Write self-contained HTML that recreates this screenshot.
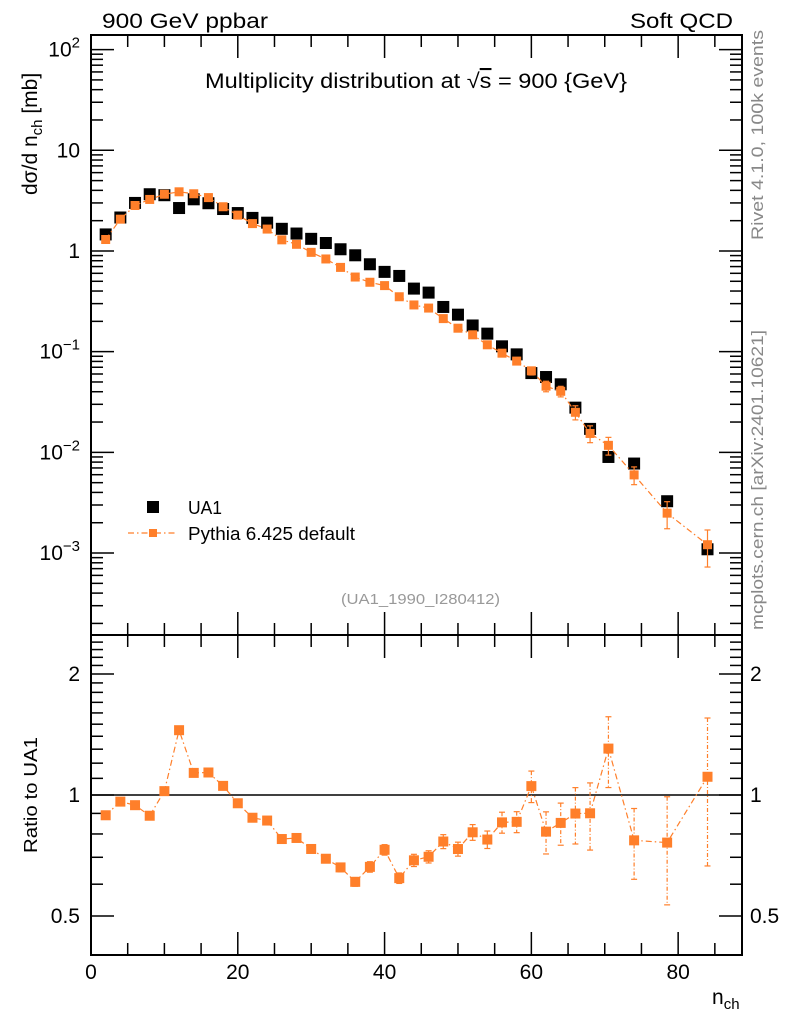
<!DOCTYPE html>
<html><head><meta charset="utf-8"><style>
html,body{margin:0;padding:0;background:#fff;}
svg{display:block;font-family:"Liberation Sans",sans-serif;}
</style></head><body>
<svg id="chart" width="786" height="1024" viewBox="0 0 786 1024" xmlns="http://www.w3.org/2000/svg">
<g id="axes"></g>
<g id="marks"></g>
<text x="102" y="28" font-size="21" textLength="166" lengthAdjust="spacingAndGlyphs">900 GeV ppbar</text>
<text x="733" y="28" font-size="21" text-anchor="end" textLength="103" lengthAdjust="spacingAndGlyphs">Soft QCD</text>
<text x="205" y="88" font-size="21" textLength="422" lengthAdjust="spacingAndGlyphs">Multiplicity distribution at √<tspan text-decoration="overline">s</tspan> = 900 {GeV}</text>
<text transform="translate(37,195) rotate(-90)" font-size="21">dσ/d n<tspan font-size="15" dy="5">ch</tspan><tspan dy="-5"> [mb]</tspan></text>
<text transform="translate(37,795) rotate(-90)" font-size="18" text-anchor="middle" textLength="116" lengthAdjust="spacingAndGlyphs">Ratio to UA1</text>
<text x="712" y="1004" font-size="21">n<tspan font-size="15" dy="5">ch</tspan></text>
<text transform="translate(763,240) rotate(-90)" font-size="17" fill="#888" textLength="210" lengthAdjust="spacingAndGlyphs">Rivet 4.1.0,  100k events</text>
<text transform="translate(763,630) rotate(-90)" font-size="17" fill="#888" textLength="300" lengthAdjust="spacingAndGlyphs">mcplots.cern.ch [arXiv:2401.10621]</text>
<text x="341" y="604" font-size="15" fill="#999" textLength="159" lengthAdjust="spacingAndGlyphs">(UA1_1990_I280412)</text>
<g>
<rect x="147" y="501" width="12" height="12" fill="#000"/>
<text x="188" y="514" font-size="18" textLength="34" lengthAdjust="spacingAndGlyphs">UA1</text>
<line x1="128" y1="533" x2="175" y2="533" stroke="#ff7f2a" stroke-width="1.2" stroke-dasharray="6,3,1.5,3"/>
<rect x="149" y="529" width="8" height="8" fill="#ff7f2a"/>
<text x="188" y="540" font-size="18" textLength="167" lengthAdjust="spacingAndGlyphs">Pythia 6.425 default</text>
</g>
</svg>
<script>
const nch = [2,4,6,8,10,12,14,16,18,20,22,24,26,28,30,32,34,36,38,40,42,44,46,48,50,52,54,56,58,60,62,64,66,68,70.5,74,78.5,84];
const ua1 = [1.46,2.15,3.0,3.66,3.58,2.67,3.26,2.98,2.61,2.38,2.13,1.91,1.66,1.49,1.32,1.20,1.04,0.906,0.738,0.62,0.565,0.423,0.386,0.278,0.233,0.182,0.151,0.113,0.094,0.0613,0.056,0.0474,0.0278,0.0171,0.0090,0.00774,0.00327,0.00109];
const pythia = [1.30,2.07,2.83,3.25,3.66,3.87,3.70,3.39,2.75,2.27,1.87,1.65,1.29,1.165,0.969,0.833,0.687,0.551,0.489,0.453,0.351,0.291,0.271,0.213,0.171,0.147,0.117,0.0966,0.0806,0.0645,0.0454,0.0404,0.0250,0.0154,0.01174,0.00597,0.00249,0.00121];
const pythiaRelErr = [0.015,0.015,0.015,0.015,0.015,0.015,0.015,0.015,0.015,0.015,0.015,0.015,0.02,0.02,0.02,0.02,0.025,0.025,0.03,0.03,0.03,0.035,0.035,0.04,0.04,0.045,0.05,0.06,0.06,0.09,0.12,0.12,0.16,0.19,0.2,0.2,0.3,0.4];
const xTicks = [0,20,40,60,80];
const yDecades = [-3,-2,-1,0,1,2];
const ratioTicks = [0.5,1,2];

const NS='http://www.w3.org/2000/svg';
const L=91, R=742, T=35, MB=635, RB=955;
const X0=0, X1=88.7;
const LY0=-3.814, LY1=2.145;
const RY0=Math.log2(0.4), RY1=Math.log2(2.5);
const sx=v=>L+(v-X0)/(X1-X0)*(R-L);
const sy=v=>MB-(Math.log10(v)-LY0)/(LY1-LY0)*(MB-T);
const sr=v=>RB-(Math.log2(v)-RY0)/(RY1-RY0)*(RB-MB);
const axes=document.getElementById('axes'), marks=document.getElementById('marks');
function mk(tag,attrs,parent){const e=document.createElementNS(NS,tag);for(const k in attrs)e.setAttribute(k,attrs[k]);parent.appendChild(e);return e;}
function ln(x1,y1,x2,y2,p,w,c,dash){const e=mk('line',{x1,y1,x2,y2,stroke:c||'#000','stroke-width':w||1.5},p);if(dash)e.setAttribute('stroke-dasharray',dash);return e;}

let f1=mk('rect',{x:L,y:T,width:R-L,height:MB-T,fill:'none',stroke:'#000','stroke-width':2},axes);


let f2=mk('rect',{x:L,y:MB,width:R-L,height:RB-MB,fill:'none',stroke:'#000','stroke-width':2},axes);



for(let v=0;v<=X1;v+=5){
  const x=sx(v), big=(v%20===0), len=big?23:12;
  ln(x,T,x,T+len,axes);ln(x,MB,x,MB-len,axes);ln(x,MB,x,MB+len,axes);ln(x,RB,x,RB-len,axes);
}
xTicks.forEach(v=>{const t=mk('text',{x:sx(v),y:979,'font-size':21,'text-anchor':'middle'},axes);t.textContent=v;

});

const sup={'-3':'−3','-2':'−2','-1':'−1','2':'2'};
yDecades.forEach(d=>{
  const y=sy(Math.pow(10,d));
  ln(L,y,L+23,y,axes);ln(R,y,R-23,y,axes);
  for(let m=2;m<=9;m++){const v=m*Math.pow(10,d);const yy=sy(v);if(yy>T&&yy<MB){ln(L,yy,L+12,yy,axes);ln(R,yy,R-12,yy,axes);}}
  const t=mk('text',{x:80,y:y+7,'font-size':21,'text-anchor':'end'},axes);
  
  
  if(d===0)t.textContent='1';else if(d===1)t.textContent='10';
  else{t.textContent='10';const s=mk('tspan',{'font-size':15,dy:-9},t);s.textContent=sup[d];}
});
for(let m=2;m<=9;m++){const yy=sy(m*1e-4);if(yy<MB){ln(L,yy,L+12,yy,axes);ln(R,yy,R-12,yy,axes);}}

const rMinor=[0.4,0.6,0.7,0.8,0.9,1.1,1.2,1.3,1.4,1.5,1.6,1.7,1.8,1.9,2.1,2.2,2.3,2.4];
rMinor.forEach(v=>{const y=sr(v);ln(L,y,L+12,y,axes);ln(R,y,R-12,y,axes);});
ratioTicks.forEach(v=>{const y=sr(v);ln(L,y,L+23,y,axes);ln(R,y,R-23,y,axes);
  const t=mk('text',{x:80,y:y+7,'font-size':21,'text-anchor':'end'},axes);t.textContent=v;
  
  
  const t2=mk('text',{x:750,y:y+7,'font-size':21},axes);t2.textContent=v;
  
  });
const ref=ln(L,sr(1),R,sr(1),axes,1.5);



const OR='#ff7f2a', DASH='6,3,1.5,3';
nch.forEach((n,i)=>{const r=mk('rect',{x:sx(n)-6,y:sy(ua1[i])-6,width:12,height:12,fill:'#000'},marks);

});
const pts=nch.map((n,i)=>sx(n)+','+sy(pythia[i])).join(' ');
const pl=mk('polyline',{points:pts,fill:'none',stroke:OR,'stroke-width':1.2,'stroke-dasharray':DASH},marks);


const ratio=pythia.map((p,i)=>p/ua1[i]);
const rpts=nch.map((n,i)=>sx(n)+','+sr(ratio[i])).join(' ');
const rl=mk('polyline',{points:rpts,fill:'none',stroke:OR,'stroke-width':1.2,'stroke-dasharray':DASH},marks);


nch.forEach((n,i)=>{
  const x=sx(n), e=pythiaRelErr[i];
  const y1=sy(pythia[i]*(1+e)), y2=sy(pythia[i]*(1-e));
  ln(x,y1,x,y2,marks,1.2,OR);ln(x-3,y1,x+3,y1,marks,1.2,OR);ln(x-3,y2,x+3,y2,marks,1.2,OR);
  const r=mk('rect',{x:x-4.5,y:sy(pythia[i])-4.5,width:9,height:9,fill:OR},marks);
  
  
  const r1=sr(ratio[i]*(1+e)), r2=sr(ratio[i]*(1-e));
  ln(x,r1,x,r2,marks,1.2,OR,e>0.05?'4,2,1,2':null);ln(x-3,r1,x+3,r1,marks,1.2,OR);ln(x-3,r2,x+3,r2,marks,1.2,OR);
  const q=mk('rect',{x:x-5,y:sr(ratio[i])-5,width:10,height:10,fill:OR},marks);
  
  
});
</script>
</body></html>
